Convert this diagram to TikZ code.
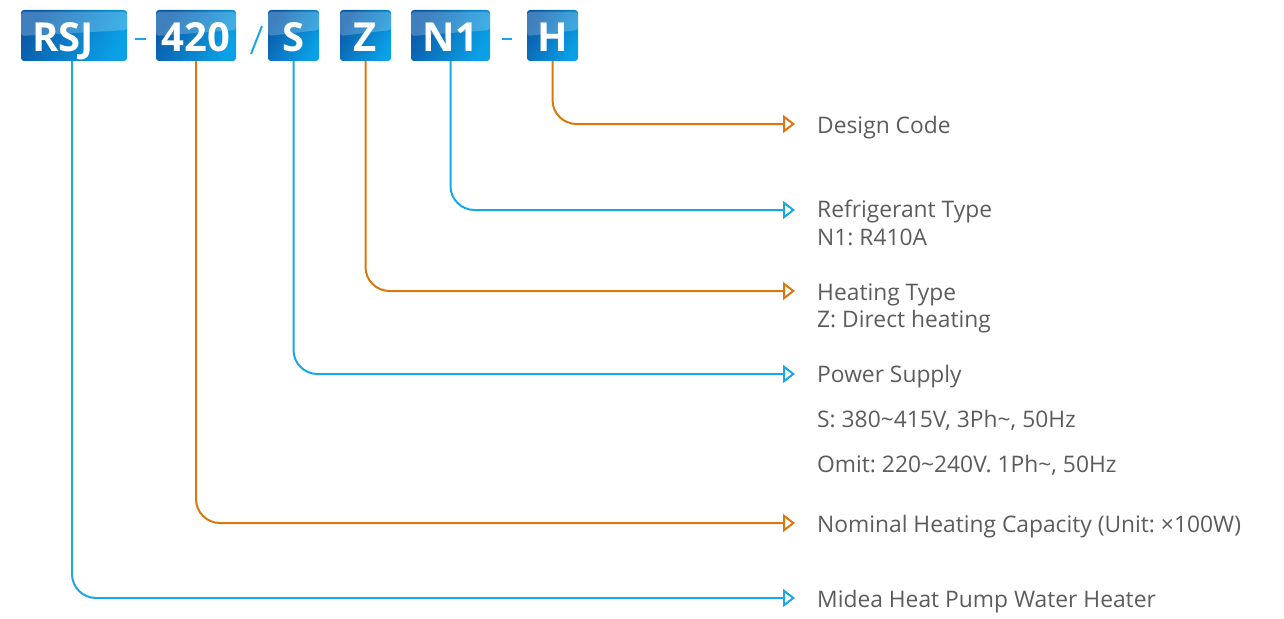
\documentclass[tikz,border=0pt]{standalone}
\usepackage{fontspec}
\setmainfont{Open Sans}
\usetikzlibrary{arrows.meta}
\definecolor{lblue}{HTML}{1AA7E8}
\definecolor{lorange}{HTML}{D9780F}
\definecolor{bdark}{HTML}{0A5BAA}
\definecolor{blight}{HTML}{0AA0E6}
\definecolor{tgray}{HTML}{5C5C5C}
\frenchspacing
\begin{document}
\begin{tikzpicture}[x=1pt,y=-1pt,
  codebox/.style={rounded corners=3pt, inner sep=0pt, minimum height=51pt,
    text height=32pt, text depth=0pt,
    left color=bdark, right color=blight, shading angle=60,
    text=white, font=\fontsize{40}{40}\selectfont\bfseries,
    path picture={\fill[white,opacity=0.22]
      ([yshift=-2pt]path picture bounding box.north west) --
      ([yshift=-2pt]path picture bounding box.north east) --
      ([yshift=-20pt]path picture bounding box.north east) --
      ([yshift=-26pt]path picture bounding box.north west) -- cycle;}},
  lbl/.style={anchor=base west, inner sep=0pt, text=tgray, font=\fontsize{22.8}{26}\selectfont},
  conn/.style={line width=2pt, rounded corners=24pt,
    -{Triangle[open, length=12pt, width=18pt, line width=2pt]}},
  bconn/.style={conn, draw=lblue},
  oconn/.style={conn, draw=lorange},
  sep/.style={line width=2.5pt, lblue}
]
\useasboundingbox (0,0) rectangle (1284,618);

% code boxes
\node[codebox, minimum width=106pt] (rsj) at (74,35.5) {\makebox[106pt][l]{\hspace{11pt}RSJ}};
\node[codebox, minimum width=80pt] (n420) at (196,35.5) {420};
\node[codebox, minimum width=51pt] (s) at (293.5,35.5) {S};
\node[codebox, minimum width=51pt] (z) at (365.5,35.5) {Z};
\node[codebox, minimum width=79pt] (n1) at (450.5,35.5) {N1};
\node[codebox, minimum width=51pt] (h) at (552.5,35.5) {H};

% separators
\draw[sep] (135,39) -- (146,39);
\draw[sep, line width=2pt] (251,54) -- (262,26);
\draw[sep] (502,39) -- (512,39);

% arrow end points
\coordinate (eH) at (795,124);
\coordinate (eN1) at (795,210);
\coordinate (eZ) at (795,291);
\coordinate (eS) at (795,374);
\coordinate (e420) at (795,523);
\coordinate (eRSJ) at (795,598);

% labels
\node[lbl] (tH) at (817,133) {Design Code};
\node[lbl] (tN1) at (817,217) {Refrigerant Type};
\node[lbl] (tN1b) at (817,245) {N1: R410A};
\node[lbl] (tZ) at (817,300) {Heating Type};
\node[lbl] (tZb) at (817,327) {Z: Direct heating};
\node[lbl] (tS) at (817,382) {Power Supply};
\node[lbl] (tSb) at (817,427) {S: 380\textasciitilde415V, 3Ph\textasciitilde, 50Hz};
\node[lbl] (tSc) at (817,472) {Omit: 220\textasciitilde240V. 1Ph\textasciitilde, 50Hz};
\node[lbl] (t420) at (817,532) {Nominal Heating Capacity (Unit: ×100W)};
\node[lbl] (tRSJ) at (817,607) {Midea Heat Pump Water Heater};

% connectors
\draw[oconn] (h.south) |- (eH);
\draw[bconn] (n1.south) |- (eN1);
\draw[oconn] (z.south) |- (eZ);
\draw[bconn] (s.south) |- (eS);
\draw[oconn] (n420.south) |- (e420);
\draw[bconn] ([xshift=-2pt]rsj.south) |- (eRSJ);
\end{tikzpicture}
\end{document}
